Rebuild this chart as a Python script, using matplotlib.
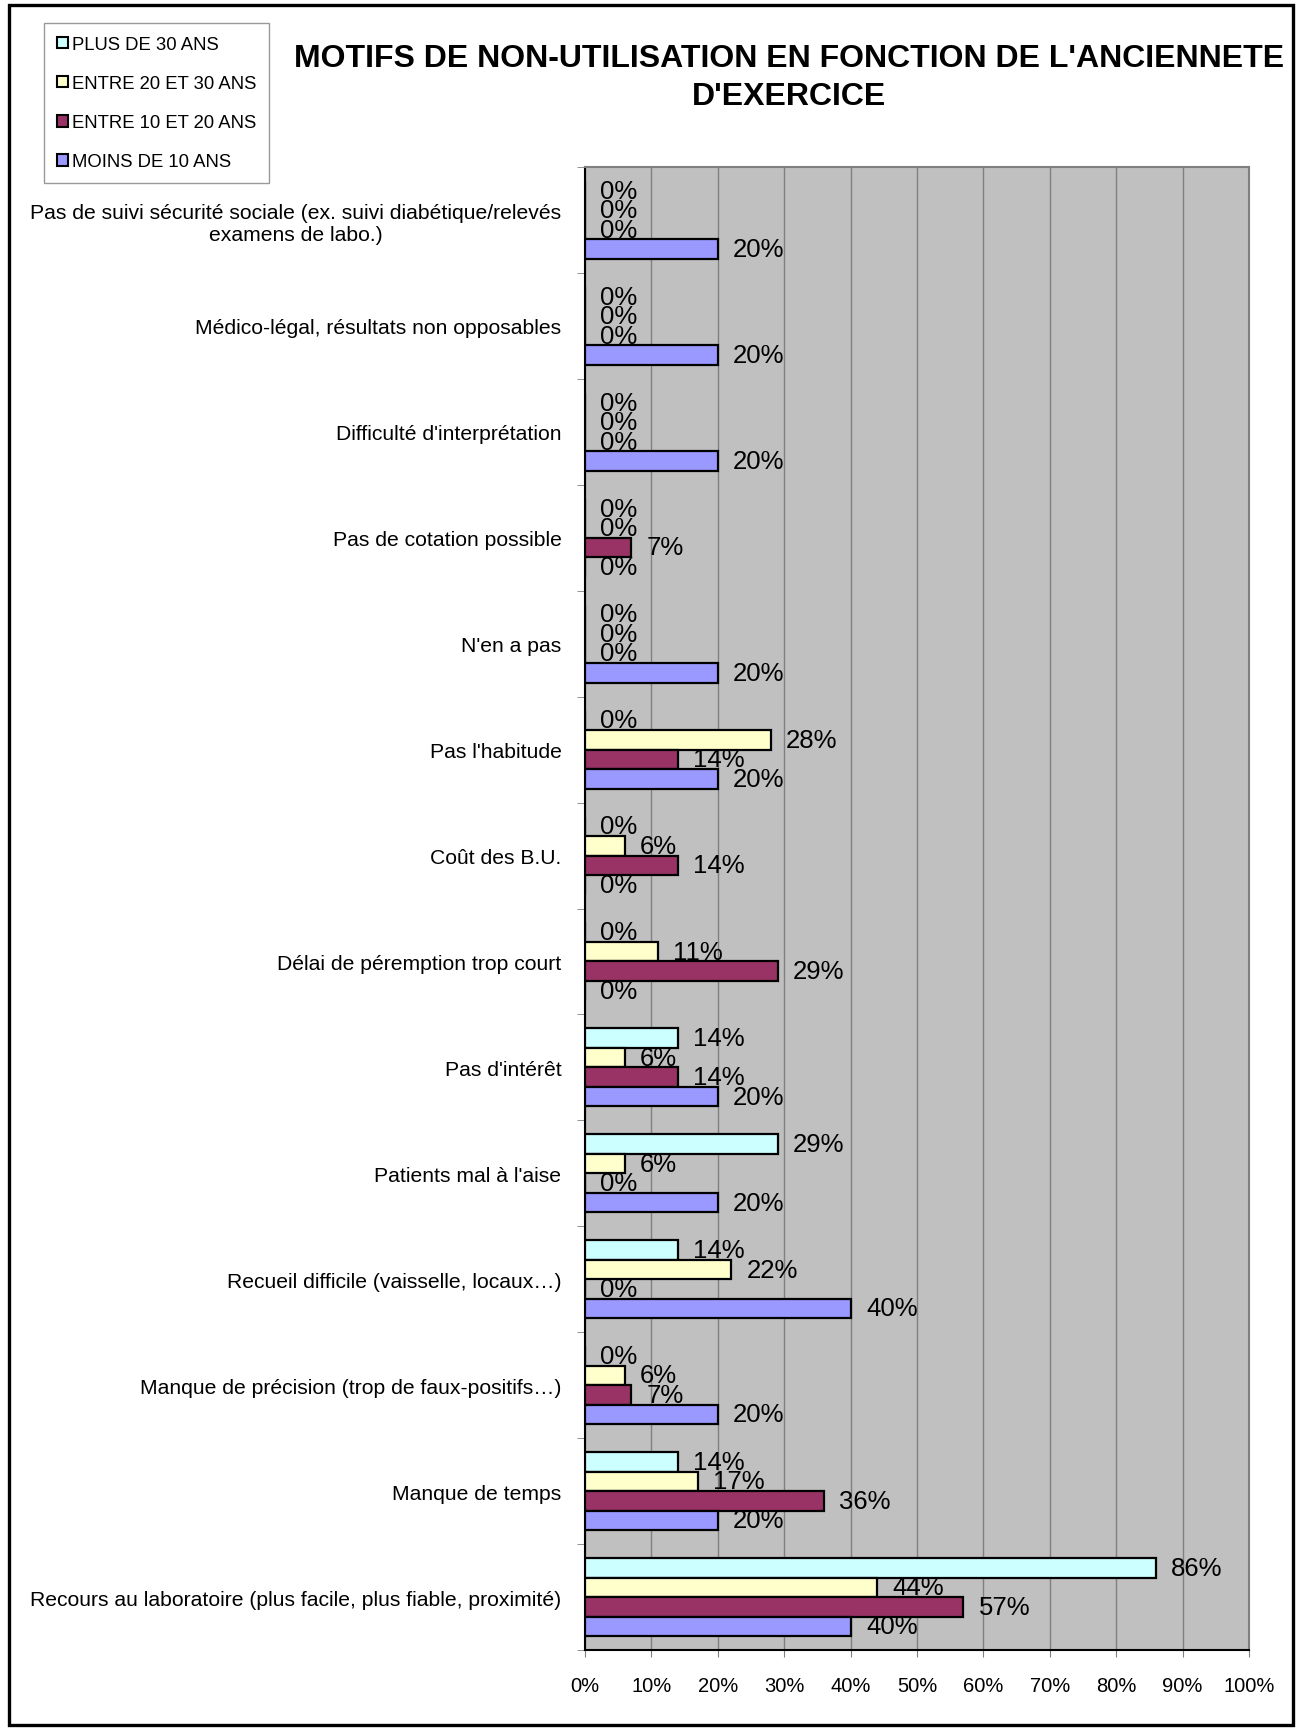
import matplotlib
matplotlib.use("Agg")
import matplotlib.pyplot as plt
from matplotlib.patches import Rectangle, Patch
import numpy as np

plt.rcParams['font.family'] = ['Liberation Sans', 'DejaVu Sans']

categories = [
    "Pas de suivi sécurité sociale (ex. suivi diabétique/relevés\nexamens de labo.)",
    "Médico-légal, résultats non opposables",
    "Difficulté d'interprétation",
    "Pas de cotation possible",
    "N'en a pas",
    "Pas l'habitude",
    "Coût des B.U.",
    "Délai de péremption trop court",
    "Pas d'intérêt",
    "Patients mal à l'aise",
    "Recueil difficile (vaisselle, locaux…)",
    "Manque de précision (trop de faux-positifs…)",
    "Manque de temps",
    "Recours au laboratoire (plus facile, plus fiable, proximité)",
]

series_names = ["PLUS DE 30 ANS", "ENTRE 20 ET 30 ANS", "ENTRE 10 ET 20 ANS", "MOINS DE 10 ANS"]
plus_30 = [0, 0, 0, 0, 0, 0, 0, 0, 14, 29, 14, 0, 14, 86]
entre_20_30 = [0, 0, 0, 0, 0, 28, 6, 11, 6, 6, 22, 6, 17, 44]
entre_10_20 = [0, 0, 0, 7, 0, 14, 14, 29, 14, 0, 0, 7, 36, 57]
moins_10 = [20, 20, 20, 0, 20, 20, 0, 0, 20, 20, 40, 20, 20, 40]
series_values = [plus_30, entre_20_30, entre_10_20, moins_10]
colors = ["#CCFFFF", "#FFFFCC", "#993366", "#9999FF"]
xtick_labels = ["0%", "10%", "20%", "30%", "40%", "50%", "60%", "70%", "80%", "90%", "100%"]

W, H = 1302, 1733
fig = plt.figure(figsize=(W / 100, H / 100), dpi=100)

# outer border
fig.patches.append(Rectangle((9 / W, 1 - 1726 / H), (1293 - 9) / W, (1726 - 6) / H,
                             transform=fig.transFigure, fill=False, edgecolor='black',
                             linewidth=2.4, zorder=0))

ax_l, ax_r, ax_t, ax_b = 585, 1249, 168, 1651
ax = fig.add_axes([ax_l / W, 1 - ax_b / H, (ax_r - ax_l) / W, (ax_b - ax_t) / H])
ax.set_facecolor("#C0C0C0")

n = len(categories)
y = np.arange(n)
h = 0.184
for k, (vals, col) in enumerate(zip(series_values, colors)):
    yy = y + (k - 1.5) * h
    v = np.array(vals) / 100.0
    ax.barh(yy, v, height=h, color=col, edgecolor='black', linewidth=1.6, zorder=3,
            label=series_names[k])
    for yi, vi, raw in zip(yy, v, vals):
        ax.annotate(f"{raw}%", (vi, yi), xytext=(11, 0), textcoords='offset points',
                    ha='left', va='center', fontsize=18.5, zorder=4)

ax.set_xlim(0, 1)
ax.set_ylim(n - 0.5, -0.5)
ax.set_xticks(np.linspace(0, 1, 11))
ax.set_xticklabels(xtick_labels, fontsize=14.5)
ax.tick_params(axis='x', direction='out', length=5, color='#808080', pad=14)

ax.set_yticks(y)
ax.set_yticklabels(categories, fontsize=15.2, multialignment='center')
ax.tick_params(axis='y', which='major', length=0, pad=17)
ax.set_yticks(np.arange(n + 1) - 0.5, minor=True)
ax.tick_params(axis='y', which='minor', direction='out', length=6, color='#808080')

ax.grid(axis='x', color='#808080', linewidth=1.0, zorder=1)
ax.set_axisbelow(True)
for s in ['top', 'right']:
    ax.spines[s].set_color('#808080')
    ax.spines[s].set_linewidth(1.5)
for s in ['left', 'bottom']:
    ax.spines[s].set_color('black')
    ax.spines[s].set_linewidth(1.5)

# title
fig.text(789 / W, 1 - 78 / H, "MOTIFS DE NON-UTILISATION EN FONCTION DE L'ANCIENNETE\nD'EXERCICE",
         ha='center', va='center', fontsize=23, fontweight='bold', linespacing=1.36)

# legend
handles = [Patch(facecolor=c, edgecolor='black', linewidth=1.5) for c in colors]
leg = fig.legend(handles, series_names, loc='upper left',
                 bbox_to_anchor=(44 / W, 1 - 24 / H), fontsize=13.3,
                 frameon=True, fancybox=False, edgecolor='#808080',
                 handlelength=0.6, handleheight=0.6, handletextpad=0.2,
                 labelspacing=1.2, borderpad=0.7, borderaxespad=0)
leg.get_frame().set_linewidth(1.0)

fig.savefig("out.png", dpi=100)
